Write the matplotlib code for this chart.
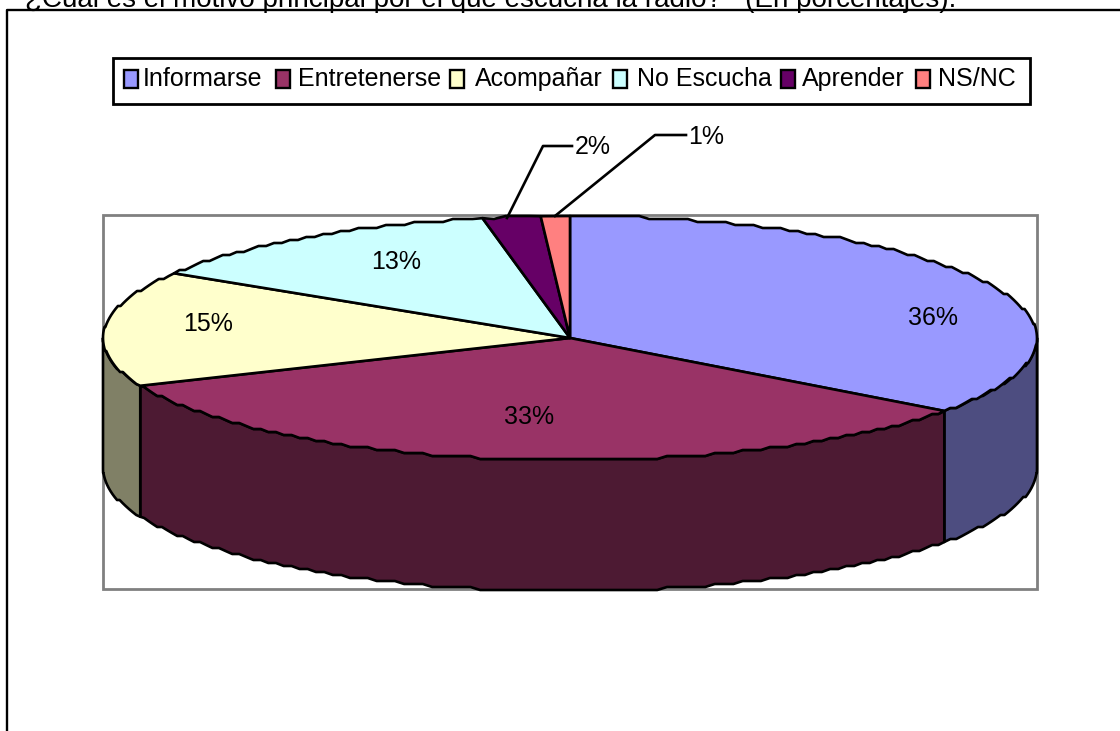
import matplotlib
matplotlib.use('Agg')
import matplotlib.pyplot as plt
import numpy as np
from matplotlib.patches import Polygon, Rectangle

plt.rcParams['font.family'] = ['Liberation Sans', 'DejaVu Sans']

title = '¿Cuál es el motivo principal por el que escucha la radio?   (En porcentajes).'
categories = ['Informarse', 'Entretenerse', 'Acompañar', 'No Escucha', 'Aprender', 'NS/NC']
# shares as the slices are drawn in the picture (the 3D view distorts them a bit)
shares = [35.2, 33.4, 15.3, 13.1, 2.0, 1.0]
labels = ['36%', '33%', '15%', '13%', '2%', '1%']
top_colors = ['#9999FF', '#993366', '#FFFFCC', '#CCFFFF', '#660066', '#FF8080']
side_colors = ['#4D4D80', '#4D1A33', '#808066', '#668080', '#330033', '#804040']

cx, cy, rx, ry, depth = 570, 338, 467, 122, 131
line_w = 1.9


def stair(v):
    # the reference edge is jagged from downscaling
    return np.round(v / 3) * 3


def rim(a0, a1):
    n = max(int((a1 - a0) / 1.2), 2)
    a = np.radians(np.linspace(a0, a1, n))
    x, y = cx + rx * np.sin(a), cy - ry * np.cos(a)
    y[1:-1] = stair(y[1:-1])
    return x, y


fig = plt.figure(figsize=(11.2, 7.31), dpi=100)
ax = fig.add_axes([0, 0, 1, 1])
ax.set_xlim(0, 1120)
ax.set_ylim(731, 0)
ax.axis('off')

ax.text(25, 7, title, fontsize=20, va='baseline', ha='left', color='black')
ax.plot([7, 7, 1120], [731, 10, 10], color='black', lw=1.7, zorder=1)

# plot area
ax.add_patch(Rectangle((103, 215), 934, 374, fc='white', ec='#808080', lw=2, zorder=1))

edges = np.concatenate([[0], np.cumsum(shares)]) * 3.6

# walls, only the front half is visible
for i in range(len(shares)):
    a0, a1 = max(edges[i], 90), min(edges[i + 1], 270)
    if a0 >= a1:
        continue
    x, y = rim(a0, a1)
    px = np.concatenate([x, x[::-1]])
    py = np.concatenate([y, y[::-1] + depth])
    ax.add_patch(Polygon(np.column_stack([px, py]), closed=True, fc=side_colors[i],
                         ec='black', lw=line_w, joinstyle='round', zorder=2))

# top face
for i in range(len(shares)):
    x, y = rim(edges[i], edges[i + 1])
    px = np.concatenate([[cx], x])
    py = np.concatenate([[cy], y])
    ax.add_patch(Polygon(np.column_stack([px, py]), closed=True, fc=top_colors[i],
                         ec='black', lw=line_w, joinstyle='round', zorder=3))

# percentage labels
label_pos = [(933, 318), (529, 417), (208, 324), (396, 262)]
for lab, (lx, ly) in zip(labels[:4], label_pos):
    ax.text(lx, ly, lab, fontsize=18, ha='center', va='center', zorder=5)

# leader lines for the two small slices
ax.plot([507, 543, 572], [218, 146, 146], color='black', lw=line_w, zorder=4)
ax.plot([555, 655, 686], [216, 135, 135], color='black', lw=line_w, zorder=4)
ax.text(575, 147, labels[4], fontsize=18, ha='left', va='center', zorder=5)
ax.text(688, 137, labels[5], fontsize=18, ha='left', va='center', zorder=5)

# legend
ax.add_patch(Rectangle((113, 58), 917, 46, fc='white', ec='black', lw=2, zorder=4))
swatch_x = [124, 276, 450, 613, 781, 916]
text_x = [143, 298, 475, 637, 802, 938]
for i, name in enumerate(categories):
    ax.add_patch(Rectangle((swatch_x[i], 70), 14, 18, fc=top_colors[i], ec='black', lw=1.7, zorder=5))
    ax.text(text_x[i], 79, name, fontsize=18, ha='left', va='center', zorder=5)

fig.savefig('out.png', dpi=100)
